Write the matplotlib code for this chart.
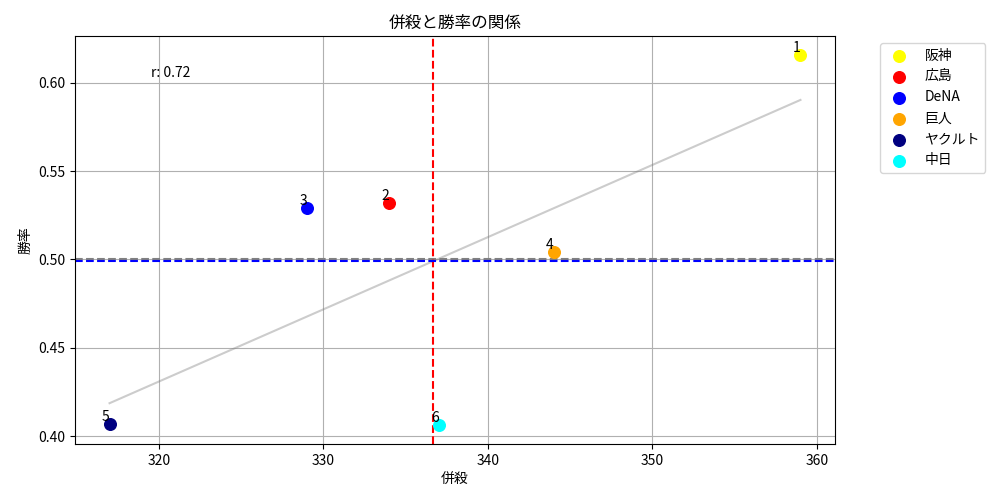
import matplotlib
matplotlib.use("Agg")
import matplotlib.pyplot as plt
import numpy as np

plt.rcParams['font.family'] = ['Noto Sans CJK JP', 'DejaVu Sans']

teams = ['阪神', '広島', 'DeNA', '巨人', 'ヤクルト', '中日']
heisatsu = [359, 334, 329, 344, 317, 337]
win_rate = [0.616, 0.532, 0.529, 0.504, 0.407, 0.406]
ranks = [1, 2, 3, 4, 5, 6]
colors = ['yellow', 'red', 'blue', 'orange', 'navy', 'cyan']

fig, ax = plt.subplots(figsize=(10, 5), dpi=100)
x = np.array(heisatsu); y = np.array(win_rate)
for t, xi, yi, c, r in zip(teams, x, y, colors, ranks):
    ax.scatter(xi, yi, color=c, s=70, label=t, zorder=3)
    ax.text(xi, yi, str(r), ha='right', va='bottom', fontsize=10, zorder=4)

m, b = np.polyfit(x, y, 1)
xs = np.array([x.min(), x.max()])
ax.plot(xs, m * xs + b, color='gray', alpha=0.4)
ax.axhline(0.5, color='gray', linestyle='--')
ax.axvline(x.mean(), color='red', linestyle='--')
ax.axhline(y.mean(), color='blue', linestyle='--')
r = np.corrcoef(x, y)[0, 1]
ax.text(0.1, 0.9, f'r: {r:.2f}', transform=ax.transAxes, fontsize=10)

ax.set_title('併殺と勝率の関係')
ax.set_xlabel('併殺')
ax.set_ylabel('勝率')
ax.grid(True)
ax.legend(bbox_to_anchor=(1.05, 1), loc='upper left')
fig.subplots_adjust(left=0.075, right=0.835, top=0.928, bottom=0.112)
fig.savefig('out.png')
